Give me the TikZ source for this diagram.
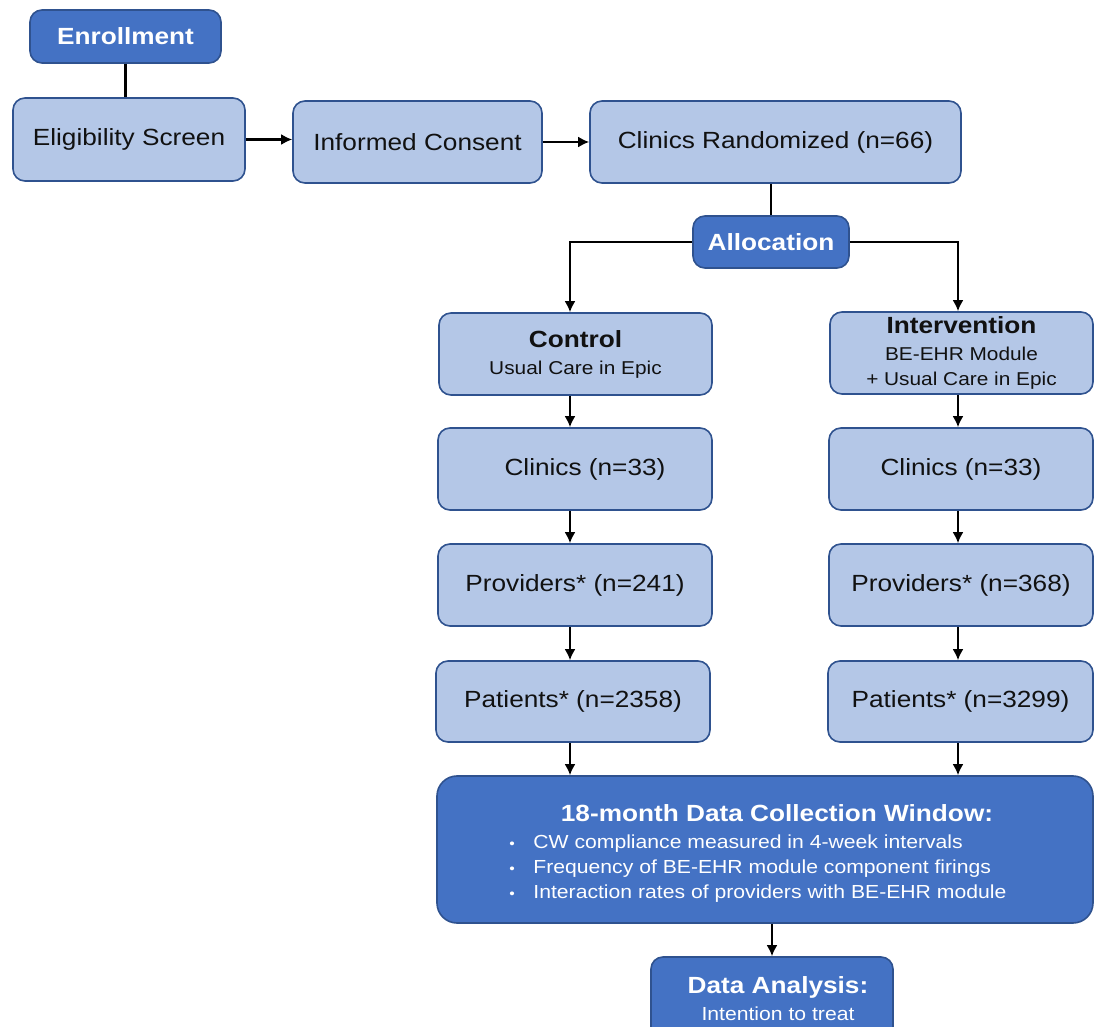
\documentclass[tikz,border=0pt]{standalone}
\usepackage{fontspec}
\setmainfont{Liberation Sans}[FakeStretch=1.12]
\usetikzlibrary{arrows.meta}
\definecolor{darkfill}{HTML}{4472C4}
\definecolor{lightfill}{HTML}{B4C7E7}
\definecolor{edgeblue}{HTML}{2F528F}
\definecolor{ink}{HTML}{111111}
\newcommand{\bigf}{\fontsize{11.7}{14}\selectfont}
\newcommand{\smallf}{\fontsize{9.3}{12.5}\selectfont}
\newcommand{\listf}{\fontsize{9.45}{12.5}\selectfont}
\tikzset{
  lightbox/.style={draw=edgeblue, line width=0.8pt, fill=lightfill, rounded corners=6pt,
    text=ink, font=\bigf, inner sep=0pt, align=center},
  darkbox/.style={draw=edgeblue, line width=0.8pt, fill=darkfill, rounded corners=6pt,
    text=white, font=\bigf\bfseries, inner sep=0pt, align=center},
  arr/.style={line width=1.15pt, -{Latex[length=5.5pt,width=5.5pt]}},
  link/.style={line width=1.15pt},
}
\begin{document}
\begin{tikzpicture}[x=0.5pt,y=-0.5pt]
\fill[white] (0,0) rectangle (1094,1027);
\clip (0,0) rectangle (1094,1027);
% top row
\node[darkbox, minimum width=95.5pt, minimum height=26.5pt] (enroll) at (125.5,36.5) {Enrollment};
\node[lightbox, minimum width=116pt, minimum height=41.5pt] (elig) at (129,139.5) {Eligibility Screen};
\node[lightbox, minimum width=124.5pt, minimum height=41pt] (consent) at (417.5,142) {Informed Consent};
\node[lightbox, minimum width=185.5pt, minimum height=41pt] (rand) at (775.5,142) {Clinics Randomized (n=66)};
\node[darkbox, minimum width=78pt, minimum height=26pt] (alloc) at (771,242) {Allocation};
% arms
\node[lightbox, minimum width=136.5pt, minimum height=41pt, font=\smallf] (control) at (575.5,354)
  {{\bigf\bfseries Control}\\[1pt] Usual Care in Epic};
\node[lightbox, minimum width=131.5pt, minimum height=41pt, font=\smallf] (interv) at (961.5,353)
  {{\bigf\bfseries Intervention}\\[1pt] BE-EHR Module\\ + Usual Care in Epic};
\node[lightbox, minimum width=137pt, minimum height=41pt] (clinL) at (575,469) {\hspace*{10pt}Clinics (n=33)};
\node[lightbox, minimum width=132pt, minimum height=41pt] (clinR) at (961,469) {Clinics (n=33)};
\node[lightbox, minimum width=137pt, minimum height=41pt] (provL) at (575,585) {Providers* (n=241)};
\node[lightbox, minimum width=132pt, minimum height=41pt] (provR) at (961,585) {Providers* (n=368)};
\node[lightbox, minimum width=137pt, minimum height=40.5pt] (patL) at (573,701.5) {Patients* (n=2358)};
\node[lightbox, minimum width=132.5pt, minimum height=40.5pt] (patR) at (960.5,701.5) {Patients* (n=3299)};
% data collection
\node[darkbox, rounded corners=10pt, minimum width=328pt, minimum height=73.5pt] (dcw) at (765,849.5) {};
\node[text=white, font=\bigf\bfseries, inner sep=0pt] (dcwtitle) at (777,813) {18-month Data Collection Window:};
\node[text=white, font=\listf, inner sep=0pt, anchor=west, align=left] (dcwlist) at (509,869)
  {\makebox[12pt][l]{\scriptsize •}CW compliance measured in 4-week intervals\\
   \makebox[12pt][l]{\scriptsize •}Frequency of BE-EHR module component firings\\
   \makebox[12pt][l]{\scriptsize •}Interaction rates of providers with BE-EHR module};
\node[darkbox, minimum width=121pt, minimum height=41.5pt, font=\listf] (da) at (772,998.5)
  {\hspace*{6pt}{\bigf\bfseries Data Analysis:}\\[1pt]\hspace*{6pt}Intention to treat};
% connectors
\coordinate (cl) at (570,0);
\coordinate (cr) at (958,0);
\draw[link] (enroll.south) -- (enroll.south |- elig.north);
\draw[arr] (elig.east) -- (elig.east -| consent.west);
\draw[arr] (consent.east) -- (rand.west);
\draw[link] (alloc.north |- rand.south) -- (alloc.north);
\draw[arr] (alloc.west) -| (control.north -| cl);
\draw[arr] (alloc.east) -| (interv.north -| cr);
\draw[arr] (control.south -| cl) -- (clinL.north -| cl);
\draw[arr] (clinL.south -| cl) -- (provL.north -| cl);
\draw[arr] (provL.south -| cl) -- (patL.north -| cl);
\draw[arr] (patL.south -| cl) -- (dcw.north -| cl);
\draw[arr] (interv.south -| cr) -- (clinR.north -| cr);
\draw[arr] (clinR.south -| cr) -- (provR.north -| cr);
\draw[arr] (provR.south -| cr) -- (patR.north -| cr);
\draw[arr] (patR.south -| cr) -- (dcw.north -| cr);
\draw[arr] (da.north |- dcw.south) -- (da.north);
\end{tikzpicture}
\end{document}
